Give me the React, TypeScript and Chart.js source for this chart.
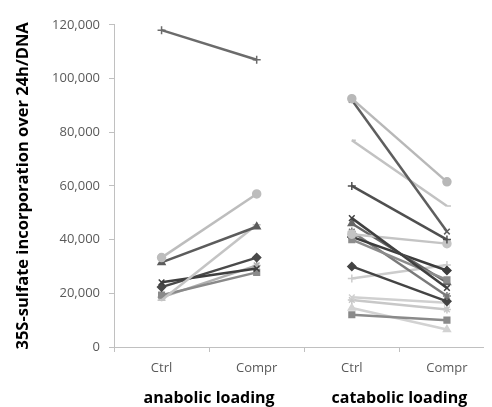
import React, { useEffect, useRef } from "react";
import { Chart, registerables } from "chart.js";

Chart.register(...registerables);

const categories = ["Ctrl", "Compr", "Ctrl", "Compr"];
const groupLabels = ["anabolic loading", "catabolic loading"];
const yTitle = "35S-sulfate incorporation over 24h/DNA";

const anabolicCtrl = [118000, 33300, 31500, 17400, 24100, 22300, 19300, 18500];
const anabolicCompr = [107000, 57000, 44800, 45500, 29200, 33300, 27800, 30400];

const catabolicCtrl = [92500, 92000, 77000, 60000, 48000, 42000, 40000, 46000, 41000, 43000, 30000, 25500, 18500, 17500, 12000, 14500];
const catabolicCompr = [61500, 43000, 52500, 40000, 22000, 38500, 25000, 24000, 28500, 19000, 17000, 30500, 16500, 14000, 10000, 6500];

const anabolicColors = ["#6b6b6b", "#bdbdbd", "#5c5c5c", "#c4c4c4", "#3f3f3f", "#4a4a4a", "#8a8a8a", "#b0b0b0"];
const anabolicMarkers = ["cross", "circle", "triangle", "line", "crossRot", "rectRot", "rect", "star"];
const catabolicColors = ["#b8b8b8", "#5e5e5e", "#c2c2c2", "#4f4f4f", "#404040", "#c4c4c4", "#8c8c8c", "#666666", "#3c3c3c", "#7a7a7a", "#444444", "#cccccc", "#d0d0d0", "#c8c8c8", "#8a8a8a", "#d2d2d2"];
const catabolicMarkers = ["circle", "crossRot", "dash", "cross", "crossRot", "circle", "rect", "triangle", "rectRot", "star", "rectRot", "cross", "crossRot", "star", "rect", "triangle"];

const FONT = "'Open Sans', 'Liberation Sans', sans-serif";

export default function App() {
  const ref = useRef<HTMLCanvasElement | null>(null);

  useEffect(() => {
    if (!ref.current) return;
    const datasets: any[] = [];
    anabolicCtrl.forEach((v, i) => {
      datasets.push({
        data: [v, anabolicCompr[i], null, null],
        borderColor: anabolicColors[i],
        backgroundColor: anabolicColors[i],
        pointStyle: anabolicMarkers[i],
        borderWidth: 2.5,
        pointRadius: 4,
        pointBorderWidth: 1.5,
      });
    });
    catabolicCtrl.forEach((v, i) => {
      datasets.push({
        data: [null, null, v, catabolicCompr[i]],
        borderColor: catabolicColors[i],
        backgroundColor: catabolicColors[i],
        pointStyle: catabolicMarkers[i],
        borderWidth: 2.5,
        pointRadius: 4,
        pointBorderWidth: 1.5,
      });
    });

    const chart = new Chart(ref.current, {
      type: "line",
      data: { labels: categories, datasets },
      options: {
        responsive: false,
        animation: false,
        spanGaps: false,
        layout: { padding: { top: 15, left: 0, right: 0, bottom: 0 } },
        plugins: { legend: { display: false }, tooltip: { enabled: false } },
        scales: {
          x: {
            type: "category",
            labels: categories,
            offset: true,
            grid: { display: true, drawOnChartArea: false, drawTicks: true, tickLength: 5, color: "#c0c0c0", offset: true },
            border: { color: "#c0c0c0", width: 1 },
            ticks: { color: "#595959", font: { family: FONT, size: 13 }, padding: 8, maxRotation: 0 },
            afterFit: (s: any) => { s.height = 30; },
          },
          x2: {
            type: "category",
            labels: groupLabels,
            position: "bottom",
            offset: true,
            grid: { display: false },
            border: { display: false },
            ticks: { color: "#000000", font: { family: FONT, size: 16, weight: "bold" }, padding: 4, maxRotation: 0 },
            afterFit: (s: any) => { s.height = 30; },
          },
          y: {
            min: 0,
            max: 120000,
            ticks: {
              stepSize: 20000,
              color: "#595959",
              font: { family: FONT, size: 13 },
              padding: 9,
              callback: (v: any) => Number(v).toLocaleString("en-US"),
            },
            grid: { drawOnChartArea: false, drawTicks: true, tickLength: 5, color: "#c0c0c0" },
            border: { color: "#c0c0c0", width: 1 },
            title: {
              display: true,
              text: yTitle,
              color: "#000000",
              font: { family: FONT, size: 16.5, weight: "bold" },
              padding: { top: 5, bottom: 4 },
            },
            afterFit: (s: any) => { s.width = 106; },
          },
        },
      },
    });
    return () => chart.destroy();
  }, []);

  return (
    <div style={{ width: 484, height: 399, overflow: "hidden" }}>
      <canvas ref={ref} width={492} height={399} style={{ display: "block" }} />
    </div>
  );
}
